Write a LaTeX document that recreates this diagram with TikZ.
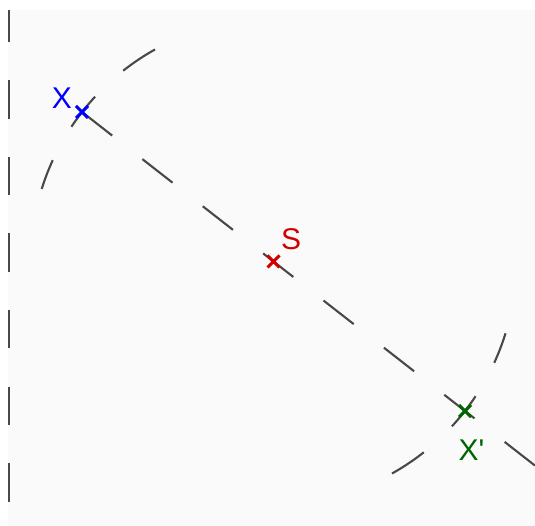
\documentclass[tikz,border=0pt]{standalone}
\usepackage{fontspec}
\setmainfont{Liberation Sans}
\usetikzlibrary{shapes.misc, positioning, backgrounds}
\definecolor{bgpanel}{RGB}{250,250,250}
\definecolor{guideline}{RGB}{72,72,72}
\definecolor{ptred}{RGB}{210,0,0}
\definecolor{ptgreen}{RGB}{0,100,0}

\begin{document}
\begin{tikzpicture}[
    x=1pt, y=1pt,
    font=\fontsize{30}{30}\selectfont,
    guide/.style={draw=guideline, line width=2.1pt, dash pattern=on 38.3pt off 38.3pt},
    marker/.style={cross out, draw, line width=3pt, minimum size=12pt, inner sep=0pt, outer sep=0pt},
    ptlabel/.style={inner sep=0pt, outer sep=0pt}
]
\useasboundingbox (0,0) rectangle (535,526);

% --- POINTS ---
\node (X) [marker, draw=blue] at (82,414) {};
\node (S) [marker, draw=ptred] at (273.5,264.5) {};
\node (Xp) [marker, draw=ptgreen] at (465,115) {};
\coordinate (top) at (9,516);
\coordinate (bottom) at (9,0);
\coordinate (tail) at (535,60.4);

% --- LABELS ---
\node (Xlbl) [ptlabel, text=blue, above left=-2.5pt and 4pt of X] {X};
\node (Slbl) [ptlabel, text=ptred, above right=6pt and 1.5pt of S] {S};
\node (Xplbl) [ptlabel, text=ptgreen, below=23pt of Xp, xshift=6.5pt] {X\textquotesingle};

% --- GUIDES ---
\begin{scope}[on background layer]
    \fill[bgpanel] (8,0) rectangle (535,516);
    \draw[guide, dash phase=6.3pt] (top) -- (bottom);
    \draw[guide] (X.center) -- (S.center) -- (Xp.center) -- (tail);
    \draw[guide] (S.center) ++(119.2:242.9) arc[start angle=119.2, end angle=162.6, radius=242.9];
    \draw[guide] (S.center) ++(-60.8:242.9) arc[start angle=-60.8, end angle=-17.2, radius=242.9];
\end{scope}

\end{tikzpicture}
\end{document}
